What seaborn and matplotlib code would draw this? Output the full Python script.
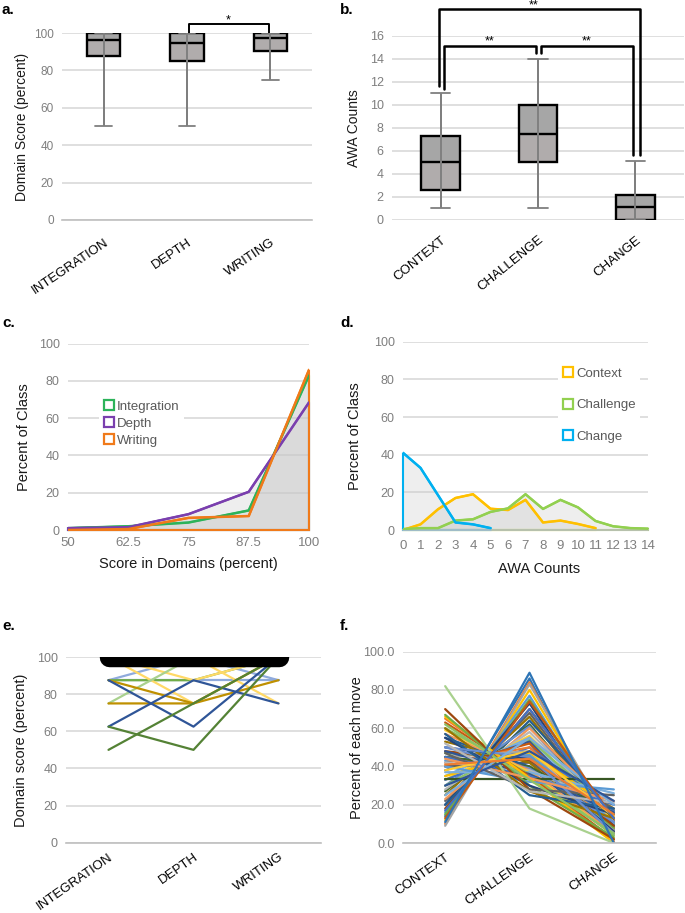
import numpy as np
import pandas as pd
import matplotlib
matplotlib.use("Agg")
import matplotlib.pyplot as plt
import seaborn as sns
from matplotlib.lines import Line2D
from matplotlib.colors import to_rgba

# ---------------- data ----------------
domains = ["INTEGRATION", "DEPTH", "WRITING"]
# five-number summaries: (min, Q1, median, Q3, max)
integration_box = [50, 87.5, 96.5, 100, 100]
depth_box = [50, 85, 94.5, 100, 100]
writing_box = [75, 90.5, 97.5, 100, 100]

moves = ["CONTEXT", "CHALLENGE", "CHANGE"]
context_box = [1, 2.6, 5, 7.3, 11]
challenge_box = [1, 5, 7.5, 10, 14]
change_box = [0, 0, 1.1, 2.2, 5.1]

score_levels = [50, 62.5, 75, 87.5, 100]
score_labels = ["50", "62.5", "75", "87.5", "100"]
integration_class = [1, 2, 4, 10.5, 83]
depth_class = [1, 1.5, 8.5, 20.5, 68.5]
writing_class = [0, 0.5, 6.5, 7.5, 86]

context_counts = list(range(0, 12))
context_class = [0, 3, 11, 17, 19, 11.3, 10.6, 16, 4, 5, 3.2, 1]
challenge_counts = list(range(0, 15))
challenge_class = [0.5, 1, 1, 5, 5.7, 9.6, 11.5, 19, 11.2, 16, 12, 4.8, 2, 1, 0.7]
change_counts = list(range(0, 6))
change_class = [41, 33, 18.5, 4, 3, 1]

# panel e: individual students (integration, depth, writing)
e_integration = [87.5, 87.5, 87.5, 100, 100, 100, 75, 75, 87.5, 62.5, 87.5, 62.5, 50, 100]
e_depth = [100, 87.5, 87.5, 75, 87.5, 100, 100, 75, 75, 87.5, 62.5, 50, 75, 100]
e_writing = [87.5, 87.5, 100, 100, 100, 75, 100, 87.5, 100, 75, 100, 100, 100, 100]

# panel f: individual students' share of each move (percent)
f_context = [14, 10, 9, 12, 16, 15, 20, 18, 22, 25, 20, 27, 30, 23, 28, 33, 35, 30, 38, 40,
             33, 42, 45, 35, 43, 47, 50, 48, 40, 53, 55, 45, 50, 57, 42, 59, 37, 60, 48, 63,
             45, 65, 33.3, 66, 40, 67, 55, 70, 47, 60, 57, 82, 50, 44, 52, 38, 25, 62, 30, 13,
             17, 41, 11]
f_challenge = [86, 84, 83, 80, 77, 75, 73, 70, 68, 66, 64, 62, 61, 60, 58, 56, 55, 54, 53, 52,
               50, 50, 48, 47, 46, 45, 44, 43, 42, 42, 40, 40, 39, 38, 38, 37, 37, 36, 36, 35,
               35, 34, 33.3, 34, 32, 30, 30, 28, 28, 27, 25, 18, 45, 34, 27, 48, 55, 33, 48, 74,
               70, 44, 89]
f_change = [0, 6, 8, 8, 7, 10, 7, 12, 10, 9, 16, 11, 9, 17, 14, 11, 10, 16, 9, 8,
            17, 8, 7, 18, 11, 8, 6, 9, 18, 5, 5, 15, 11, 5, 20, 4, 26, 4, 16, 2,
            20, 1, 33.3, 0, 28, 3, 15, 2, 25, 13, 18, 0, 5, 22, 21, 14, 20, 5, 22, 13,
            13, 15, 0]

# ---------------- styles ----------------
BOX_UPPER = "#a6a6a6"
BOX_LOWER = "#b0acac"
WHISKER = "#7f7f7f"
GRID = "#d9d9d9"
AXIS = "#bfbfbf"
TICK_TXT = "#7f7f7f"
c_colors = {"Integration": "#2cb35a", "Depth": "#7a3fae", "Writing": "#f07a1a"}
d_colors = {"Context": "#ffc000", "Challenge": "#92d050", "Change": "#00b0f0"}
e_colors = ["#8faadc", "#8faadc", "#70ad47", "#ffd966", "#ffd966", "#ffd966", "#a9d18e",
            "#bf9000", "#bf9000", "#2f5597", "#2f5597", "#548235", "#548235", "black"]
f_base = ["#4472c4", "#ed7d31", "#a5a5a5", "#ffc000", "#5b9bd5", "#70ad47", "#264478",
          "#9e480e", "#636363", "#997300", "#255e91", "#43682b", "#698ed0", "#f1975a",
          "#b7b7b7", "#ffcd33", "#7cafdd", "#8cc168", "#2f5597", "#c55a11"]

sns.set_theme(style="white")
plt.rcParams["font.family"] = ["Liberation Sans", "DejaVu Sans"]

W, H = 685, 913
fig = plt.figure(figsize=(W / 100, H / 100), dpi=100)


def add_axes(left, right, top, bottom):
    return fig.add_axes([left / W, 1 - bottom / H, (right - left) / W, (bottom - top) / H])


def style(ax, tick_size=9):
    ax.set_facecolor("white")
    for s in ["top", "right", "left"]:
        ax.spines[s].set_visible(False)
    ax.spines["bottom"].set_color(AXIS)
    ax.spines["bottom"].set_linewidth(1.2)
    ax.yaxis.grid(True, color=GRID, lw=1.2)
    ax.xaxis.grid(False)
    ax.set_axisbelow(True)
    ax.tick_params(axis="y", length=0, colors=TICK_TXT, labelsize=tick_size, pad=6)
    ax.tick_params(axis="x", length=4, color=AXIS, width=1.2)


def boxpanel(ax, cats, boxes):
    df = pd.DataFrame({"cat": np.repeat(cats, 5), "val": sum(boxes, [])})
    sns.boxplot(data=df, x="cat", y="val", whis=(0, 100), width=0.4, color=BOX_UPPER,
                saturation=1, linecolor="black", linewidth=1.7, showfliers=False,
                whiskerprops=dict(color=WHISKER, linewidth=1.3),
                capprops=dict(color=WHISKER, linewidth=1.3),
                medianprops=dict(color="black", linewidth=1.7),
                ax=ax)
    for p in ax.patches:
        p.set_facecolor("none")
        p.set_zorder(3)
    for ln in ax.lines:
        ln.set_zorder(4)
    pos = range(len(cats))
    q1 = [b[1] for b in boxes]
    med = [b[2] for b in boxes]
    q3 = [b[3] for b in boxes]
    # two-tone box fill (lower and upper halves)
    ax.bar(pos, np.subtract(q3, med), bottom=med, width=0.4, color=BOX_UPPER,
           linewidth=0, zorder=1.5)
    ax.bar(pos, np.subtract(med, q1), bottom=q1, width=0.4, color=BOX_LOWER,
           linewidth=0, zorder=1.5)
    # whisker line that runs through the box, as in the original
    ax.vlines(pos, [b[0] for b in boxes], [b[4] for b in boxes],
              color=WHISKER, lw=1.4, zorder=10)
    ax.set_xlim(-0.5, len(cats) - 0.5)
    ax.set_xlabel("")


def cat_xticks(ax, cats, ticks=True, rot=35, pad=8):
    ax.set_xticks(range(len(cats)))
    ax.set_xticklabels(cats, rotation=rot, ha="right", va="top", rotation_mode="anchor",
                       fontsize=9.5, color="black")
    if ticks:
        ax.set_xticks([len(cats) - 0.5], minor=True)
        ax.tick_params(axis="x", which="both", length=4, color=AXIS, width=1.2, pad=pad)
    else:
        ax.tick_params(axis="x", length=0, pad=pad + 2)


# ---------------- panel a ----------------
ax = add_axes(62, 312, 33, 220)
style(ax, 8.5)
boxpanel(ax, domains, [integration_box, depth_box, writing_box])
ax.set_ylim(0, 100)
ax.set_yticks(range(0, 101, 20))
cat_xticks(ax, domains, rot=34, pad=8)
ax.set_ylabel("Domain Score (percent)", fontsize=10, color="#1a1a1a")
ax.yaxis.set_label_coords((29 - 62) / 250, 0.5)
ax.plot([1.02, 1.02, 1.98, 1.98], [100, 104.6, 104.6, 100], color="black", lw=1.4,
        clip_on=False)
ax.text(1.5, 104.9, "*", ha="center", va="baseline", fontsize=9, color="black")

# ---------------- panel b ----------------
ax = add_axes(392, 684, 35.7, 220)
style(ax, 9)
ax.spines["bottom"].set_visible(False)
boxpanel(ax, moves, [context_box, challenge_box, change_box])
ax.set_ylim(0, 16)
ax.set_yticks(range(0, 17, 2))
cat_xticks(ax, moves, ticks=False, rot=39, pad=8)
ax.set_ylabel("AWA Counts", fontsize=10, color="#1a1a1a")
ax.yaxis.set_label_coords((361 - 392) / 292, 0.5)
br = dict(color="black", lw=1.8, clip_on=False)
ax.plot([-0.02, -0.02, 2.05, 2.05], [11.6, 18.3, 18.3, 5.6], **br)
ax.plot([0.03, 0.03, 0.98, 0.98], [11.4, 15.1, 15.1, 14.5], **br)
ax.plot([1.03, 1.03, 1.98, 1.98], [14.5, 15.1, 15.1, 5.6], **br)
ax.text(0.5, 15.2, "**", ha="center", va="baseline", fontsize=9, color="black")
ax.text(1.5, 15.2, "**", ha="center", va="baseline", fontsize=9, color="black")
ax.text(0.96, 18.4, "**", ha="center", va="baseline", fontsize=9, color="black")


# ---------------- area-line helper ----------------
def area_line(ax, x, y, color, name):
    xs = list(x) + [x[-1], x[0]]
    ys = list(y) + [0, 0]
    ax.fill(xs, ys, facecolor=to_rgba("#c8c8c8", 0.3), edgecolor=color, lw=1.5,
            clip_on=False, zorder=2)
    df = pd.DataFrame({"x": x, "y": y})
    sns.lineplot(data=df, x="x", y="y", color=color, lw=1.8, ax=ax, zorder=3,
                 legend=False)


def legend_handles(colors):
    return [Line2D([], [], marker="s", linestyle="none", markerfacecolor="white",
                   markeredgecolor=c, markeredgewidth=1.6, markersize=7.5, label=n)
            for n, c in colors.items()]


# ---------------- panel c ----------------
ax = add_axes(68, 309, 343.7, 530)
style(ax, 9)
area_line(ax, score_levels, integration_class, c_colors["Integration"], "Integration")
area_line(ax, score_levels, depth_class, c_colors["Depth"], "Depth")
area_line(ax, score_levels, writing_class, c_colors["Writing"], "Writing")
ax.set_xlim(50, 100)
ax.set_ylim(0, 100)
ax.set_yticks(range(0, 101, 20))
ax.set_xticks(score_levels)
ax.set_xticklabels(score_labels)
ax.tick_params(axis="x", length=0, colors=TICK_TXT, labelsize=9.5, pad=5)
ax.spines["bottom"].set_visible(False)
ax.set_xlabel("Score in Domains (percent)", fontsize=10.5, color="#1a1a1a", labelpad=6)
ax.set_ylabel("Percent of Class", fontsize=10.5, color="#1a1a1a")
ax.yaxis.set_label_coords((31 - 68) / 241, 0.5)
leg = ax.legend(handles=legend_handles(c_colors), loc="upper left",
                bbox_to_anchor=(0.1, 0.75), frameon=True, fontsize=9.5,
                labelcolor="#595959", handletextpad=0.1, labelspacing=0.35,
                borderpad=0.3, handlelength=1.0)
leg.get_frame().set_facecolor("white")
leg.get_frame().set_edgecolor("none")
leg.get_frame().set_alpha(1)

# ---------------- panel d ----------------
ax = add_axes(403, 648, 341.7, 530)
style(ax, 9)
area_line(ax, context_counts, context_class, d_colors["Context"], "Context")
area_line(ax, challenge_counts, challenge_class, d_colors["Challenge"], "Challenge")
area_line(ax, change_counts, change_class, d_colors["Change"], "Change")
ax.set_xlim(0, 14)
ax.set_ylim(0, 100)
ax.set_yticks(range(0, 101, 20))
ax.set_xticks(range(0, 15))
ax.tick_params(axis="x", length=4, color=AXIS, colors=TICK_TXT, labelsize=9.5, pad=3)
ax.tick_params(axis="x", color=AXIS)
ax.set_xlabel("AWA Counts", fontsize=10.5, color="#1a1a1a")
ax.xaxis.set_label_coords(0.555, -0.17)
ax.set_ylabel("Percent of Class", fontsize=10.5, color="#1a1a1a")
ax.yaxis.set_label_coords((362 - 403) / 245, 0.5)
leg = ax.legend(handles=legend_handles(d_colors), loc="upper left",
                bbox_to_anchor=(0.604, 0.918), frameon=True, fontsize=9.5,
                labelcolor="#595959", handletextpad=0.1, labelspacing=1.45,
                borderpad=0.3, handlelength=1.0)
leg.get_frame().set_facecolor("white")
leg.get_frame().set_edgecolor("none")
leg.get_frame().set_alpha(1)

# ---------------- panel e ----------------
ax = add_axes(66, 321, 657, 842.7)
style(ax, 9)
n_e = len(e_integration)
df_e = pd.DataFrame({
    "student": np.repeat(range(n_e), 3),
    "pos": np.tile(range(3), n_e),
    "score": np.ravel(np.column_stack([e_integration, e_depth, e_writing])),
})
pal_e = {i: e_colors[i] for i in range(n_e)}
sns.lineplot(data=df_e[df_e.student < n_e - 1], x="pos", y="score", hue="student",
             palette={k: v for k, v in pal_e.items() if k < n_e - 1}, lw=1.6,
             legend=False, estimator=None, ax=ax)
sns.lineplot(data=df_e[df_e.student == n_e - 1], x="pos", y="score", color="black",
             lw=14, solid_capstyle="round", legend=False, estimator=None, ax=ax)
ax.set_xlim(-0.5, 2.5)
ax.set_ylim(0, 100)
ax.set_yticks(range(0, 101, 20))
cat_xticks(ax, domains, rot=35, pad=2)
ax.set_xlabel("")
ax.set_ylabel("Domain score (percent)", fontsize=10.5, color="#1a1a1a")
ax.yaxis.set_label_coords((28 - 66) / 255, 0.5)

# ---------------- panel f ----------------
ax = add_axes(403, 656, 651.7, 843)
style(ax, 9)
n_f = len(f_context)
df_f = pd.DataFrame({
    "student": np.repeat(range(n_f), 3),
    "pos": np.tile(range(3), n_f),
    "share": np.ravel(np.column_stack([f_context, f_challenge, f_change])),
})
pal_f = {i: f_base[i % len(f_base)] for i in range(n_f)}
pal_f[51] = "#a9d18e"
pal_f[42] = "#375623"
pal_f[n_f - 1] = "#2e75b6"
pal_f[0] = "#2e75b6"
sns.lineplot(data=df_f, x="pos", y="share", hue="student", palette=pal_f, lw=1.6,
             legend=False, estimator=None, ax=ax)
ax.set_xlim(-0.5, 2.5)
ax.set_ylim(0, 100)
ax.set_yticks(range(0, 101, 20))
ax.set_yticklabels([f"{v:.1f}" for v in range(0, 101, 20)])
cat_xticks(ax, moves, rot=35, pad=2)
ax.set_xlabel("")
ax.set_ylabel("Percent of each move", fontsize=10.5, color="#1a1a1a")
ax.yaxis.set_label_coords((364 - 403) / 253, 0.5)

# ---------------- panel letters ----------------
for lab, x, y in [("a.", 2, 10), ("b.", 340, 10), ("c.", 2, 323), ("d.", 340, 323),
                  ("e.", 2, 626), ("f.", 340, 626)]:
    fig.text(x / W, 1 - y / H, lab, fontsize=11, fontweight="bold", va="center",
             ha="left", color="black")

fig.savefig("out.png", dpi=100)
